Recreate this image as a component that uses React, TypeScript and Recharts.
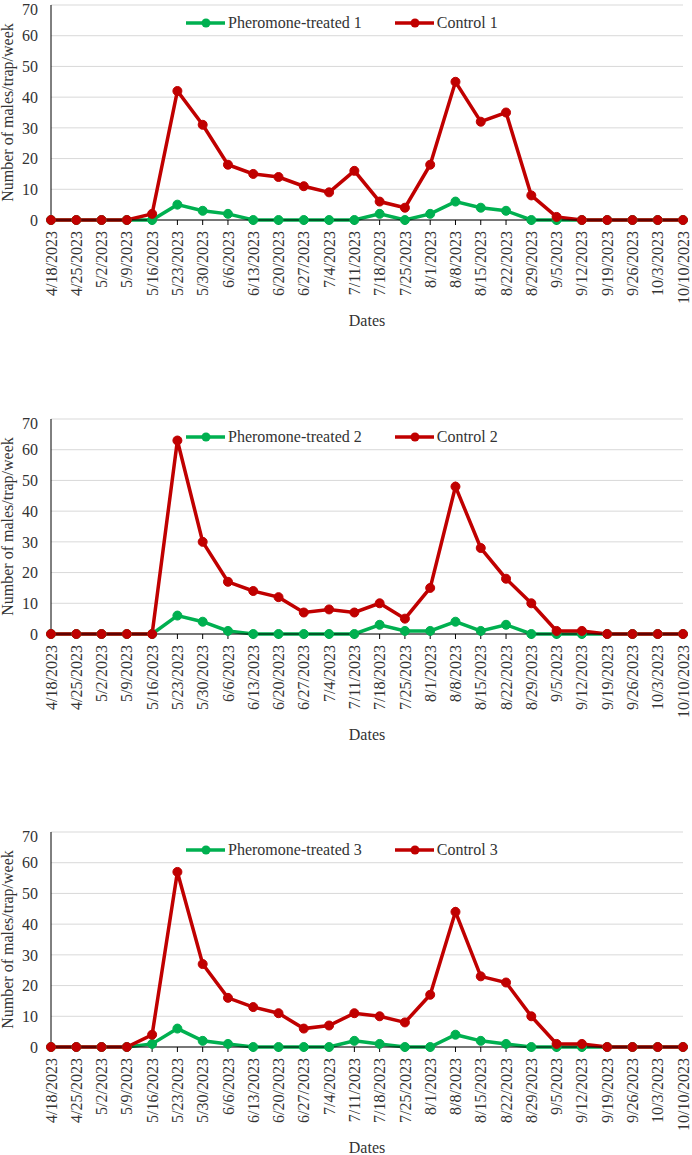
import React from "react";
import { LineChart, Line, XAxis, YAxis, CartesianGrid, Legend } from "recharts";

// Weekly trap catches, one row per sampling date
const dates = [
  "4/18/2023", "4/25/2023", "5/2/2023", "5/9/2023", "5/16/2023", "5/23/2023",
  "5/30/2023", "6/6/2023", "6/13/2023", "6/20/2023", "6/27/2023", "7/4/2023",
  "7/11/2023", "7/18/2023", "7/25/2023", "8/1/2023", "8/8/2023", "8/15/2023",
  "8/22/2023", "8/29/2023", "9/5/2023", "9/12/2023", "9/19/2023", "9/26/2023",
  "10/3/2023", "10/10/2023",
];

const treated1 = [0, 0, 0, 0, 0, 5, 3, 2, 0, 0, 0, 0, 0, 2, 0, 2, 6, 4, 3, 0, 0, 0, 0, 0, 0, 0];
const control1 = [0, 0, 0, 0, 2, 42, 31, 18, 15, 14, 11, 9, 16, 6, 4, 18, 45, 32, 35, 8, 1, 0, 0, 0, 0, 0];
const treated2 = [0, 0, 0, 0, 0, 6, 4, 1, 0, 0, 0, 0, 0, 3, 1, 1, 4, 1, 3, 0, 0, 0, 0, 0, 0, 0];
const control2 = [0, 0, 0, 0, 0, 63, 30, 17, 14, 12, 7, 8, 7, 10, 5, 15, 48, 28, 18, 10, 1, 1, 0, 0, 0, 0];
const treated3 = [0, 0, 0, 0, 1, 6, 2, 1, 0, 0, 0, 0, 2, 1, 0, 0, 4, 2, 1, 0, 0, 0, 0, 0, 0, 0];
const control3 = [0, 0, 0, 0, 4, 57, 27, 16, 13, 11, 6, 7, 11, 10, 8, 17, 44, 23, 21, 10, 1, 1, 0, 0, 0, 0];

const yTicks = [0, 10, 20, 30, 40, 50, 60, 70];
const seriesOrder = ["treated", "control"];

const FONT = '"Liberation Serif", "Times New Roman", serif';
const GREEN = "#00B050";
const RED = "#C00000";
const TEXT = "#333333";

const DateTick = (props: any) => {
  const { x, y, payload } = props;
  const ty = y + 2;
  return (
    <text
      x={x}
      y={ty}
      dy="0.35em"
      transform={`rotate(-90, ${x}, ${ty})`}
      textAnchor="end"
      fontSize={16}
      fontFamily={FONT}
      fill={TEXT}
    >
      {payload.value}
    </text>
  );
};

const renderYLabel = (props: any) => {
  const vb = props.viewBox || {};
  const cy = vb.y !== undefined ? vb.y + vb.height / 2 : 112;
  return (
    <text
      x={13}
      y={cy}
      transform={`rotate(-90, 13, ${cy})`}
      textAnchor="middle"
      fontSize={16}
      fontFamily={FONT}
      fill={TEXT}
    >
      Number of males/trap/week
    </text>
  );
};

const LegendRow = (props: any) => {
  // keep the treated series first, as in the original figure
  const items = [...(props.payload || [])].sort(
    (a: any, b: any) => seriesOrder.indexOf(a.dataKey) - seriesOrder.indexOf(b.dataKey)
  );
  return (
    <div
      style={{
        display: "flex",
        alignItems: "center",
        fontFamily: FONT,
        fontSize: 16,
        color: TEXT,
        whiteSpace: "nowrap",
      }}
    >
      {items.map((p: any, i: number) => (
        <div
          key={i}
          style={{ display: "flex", alignItems: "center", marginRight: i === 0 ? 33 : 0 }}
        >
          <svg width={39} height={12}>
            <line x1={0} y1={6} x2={39} y2={6} stroke={p.color} strokeWidth={3.5} />
            <circle cx={20} cy={6} r={4.5} fill={p.color} />
          </svg>
          <span style={{ marginLeft: 3 }}>{p.value}</span>
        </div>
      ))}
    </div>
  );
};

type PanelProps = { n: number; treated: number[]; control: number[]; top: number };

const Panel = ({ n, treated, control, top }: PanelProps) => {
  const data = dates.map((d, i) => ({ date: d, treated: treated[i], control: control[i] }));
  return (
    <div style={{ position: "absolute", left: 0, top }}>
      <LineChart width={692} height={335} data={data} margin={{ top: 5, right: 9, bottom: 0, left: 0 }}>
        <CartesianGrid vertical={false} stroke="#d9d9d9" />
        <XAxis
          dataKey="date"
          interval={0}
          height={115}
          tick={<DateTick />}
          tickSize={5}
          tickMargin={4}
          axisLine={{ stroke: "#000" }}
          tickLine={{ stroke: "#000" }}
          label={{ value: "Dates", position: "insideBottom", offset: 9, fontSize: 16, fontFamily: FONT, fill: TEXT }}
        />
        <YAxis
          domain={[0, 70]}
          ticks={yTicks}
          width={51}
          tickSize={6}
          tickMargin={7}
          tickLine={false}
          axisLine={{ stroke: "#000" }}
          tick={{ fontSize: 16, fontFamily: FONT, fill: TEXT }}
          label={renderYLabel}
        />
        <Legend
          layout="horizontal"
          verticalAlign="middle"
          align="center"
          content={<LegendRow />}
          wrapperStyle={{ top: 14, left: 186, width: "auto", height: "auto" }}
        />
        <Line
          type="linear"
          dataKey="treated"
          name={`Pheromone-treated ${n}`}
          stroke={GREEN}
          strokeWidth={3.5}
          dot={{ r: 4.5, fill: GREEN, stroke: GREEN, strokeWidth: 1 }}
          activeDot={false}
          isAnimationActive={false}
        />
        <Line
          type="linear"
          dataKey="control"
          name={`Control ${n}`}
          stroke={RED}
          strokeWidth={3.5}
          dot={{ r: 4.5, fill: RED, stroke: RED, strokeWidth: 1 }}
          activeDot={false}
          isAnimationActive={false}
        />
      </LineChart>
    </div>
  );
};

export default function App() {
  return (
    <div
      style={{
        position: "absolute",
        left: 0,
        top: 0,
        width: 692,
        height: 1155,
        overflow: "hidden",
        background: "#fff",
      }}
    >
      <Panel n={1} treated={treated1} control={control1} top={0} />
      <Panel n={2} treated={treated2} control={control2} top={414} />
      <Panel n={3} treated={treated3} control={control3} top={827} />
    </div>
  );
}
